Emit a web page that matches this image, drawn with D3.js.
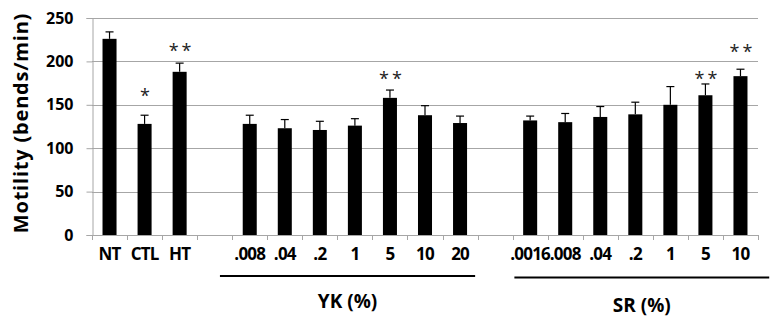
<!DOCTYPE html>
<html lang="en">
<head>
    <meta charset="UTF-8">
    <title>Motility</title>
    <script src="https://cdn.jsdelivr.net/npm/d3@7"></script>
    <style>
        body { margin: 0; background: white; }
        text { font-family: 'Open Sans', sans-serif; font-weight: bold; fill: #000; }
    </style>
</head>
<body>
<script>
    const width = 781;
    const height = 329;

    // "" marks an empty slot between groups
    const categories = ["NT", "CTL", "HT", "", ".008", ".04", ".2", "1", "5", "10", "20", "", ".0016", ".008", ".04", ".2", "1", "5", "10"];
    const values     = [226, 128, 188, null, 128, 123, 121, 126, 158, 138, 129, null, 132, 130, 136, 139, 150, 161, 183];
    const errors     = [8, 10, 10, null, 10, 10, 10, 8, 9, 11, 8, null, 5, 10, 12, 14, 21, 13, 8];
    const stars      = ["", "*", "**", "", "", "", "", "", "**", "", "", "", "", "", "", "", "", "**", "**"];
    // height (in bends/min) at which each star mark sits
    const starLevel  = [null, 165, 217, null, null, null, null, null, 184, null, null, null, null, null, null, null, null, 184, 216];
    const yTicks     = [0, 50, 100, 150, 200, 250];
    const groupLabels = ["YK (%)", "SR (%)"];
    const groupFirst  = [4, 12];
    const groupLast   = [10, 18];

    const svg = d3.select("body").append("svg").attr("width", width).attr("height", height);

    const x = d3.scaleBand()
                .domain(d3.range(categories.length))
                .range([92, 758])
                .paddingInner(0.6)
                .paddingOuter(0.3);
    const y = d3.scaleLinear().domain([0, 250]).range([235, 18]);

    // gridlines
    svg.selectAll("line.grid")
        .data(yTicks.filter(d => d > 0))
        .enter()
        .append("line")
        .attr("class", "grid")
        .attr("x1", 92).attr("x2", 758)
        .attr("y1", d => Math.round(y(d)) + 0.5).attr("y2", d => Math.round(y(d)) + 0.5)
        .style("stroke", "#a6a6a6");

    // y axis
    const yAxis = svg.append("g")
        .attr("transform", "translate(92.5,0)")
        .call(d3.axisLeft(y).tickValues(yTicks).tickSize(6).tickPadding(13));
    yAxis.select(".domain").style("stroke", "#a6a6a6");
    yAxis.selectAll(".tick line").style("stroke", "#a6a6a6");
    yAxis.selectAll("text").style("font-size", "16px").style("font-family", "'Open Sans', sans-serif");

    // x axis: ticks at band boundaries
    const step = x.step();
    const x0 = 92;
    svg.append("line")
        .attr("x1", x0).attr("x2", 758)
        .attr("y1", 235.5).attr("y2", 235.5)
        .style("stroke", "#a6a6a6");
    svg.selectAll("line.xtick")
        .data(d3.range(categories.length + 1))
        .enter()
        .append("line")
        .attr("class", "xtick")
        .attr("x1", i => Math.round(x0 + i * step) + 0.5)
        .attr("x2", i => Math.round(x0 + i * step) + 0.5)
        .attr("y1", 235).attr("y2", 240)
        .style("stroke", "#a6a6a6");

    const idx = d3.range(categories.length).filter(i => values[i] !== null);

    // bars
    svg.selectAll("rect.bar")
        .data(idx)
        .enter()
        .append("rect")
        .attr("class", "bar")
        .attr("x", i => x(i))
        .attr("y", i => y(values[i]))
        .attr("width", x.bandwidth())
        .attr("height", i => y(0) - y(values[i]))
        .style("fill", "#000");

    // error bars (upper only)
    const err = svg.append("g").style("stroke", "#000").style("stroke-width", 1.2);
    idx.forEach(i => {
        const cx = x(i) + x.bandwidth() / 2;
        err.append("line").attr("x1", cx).attr("x2", cx)
            .attr("y1", y(values[i])).attr("y2", y(values[i] + errors[i]));
        err.append("line").attr("x1", cx - 4).attr("x2", cx + 4)
            .attr("y1", y(values[i] + errors[i])).attr("y2", y(values[i] + errors[i]));
    });

    // significance stars
    svg.selectAll("text.star")
        .data(idx.filter(i => stars[i]))
        .enter()
        .append("text")
        .attr("class", "star")
        .attr("x", i => x(i) + x.bandwidth() / 2 + 2)
        .attr("y", i => y(starLevel[i]) + 10)
        .attr("text-anchor", "middle")
        .style("font-size", "18px")
        .style("font-weight", "normal")
        .style("fill", "#222")
        .style("letter-spacing", "3px")
        .text(i => stars[i]);

    // category labels
    svg.selectAll("text.cat")
        .data(idx)
        .enter()
        .append("text")
        .attr("class", "cat")
        .attr("x", i => x(i) + x.bandwidth() / 2)
        .attr("y", 260)
        .attr("text-anchor", "middle")
        .style("font-size", "17px")
        .style("letter-spacing", "-0.8px")
        .text(i => categories[i]);

    // group underlines + labels (lines were hand-placed, so ends differ a bit)
    const lineStart = [-0.65, -0.25];
    const lineEnd   = [0.23, 0.62];
    const lineY     = [276, 277.5];
    const labelY    = [308, 312];
    groupLabels.forEach((label, k) => {
        const a = x(groupFirst[k]) + step * lineStart[k];
        const b = x(groupLast[k]) + x.bandwidth() + step * lineEnd[k];
        svg.append("line")
            .attr("x1", a).attr("x2", b)
            .attr("y1", lineY[k]).attr("y2", lineY[k])
            .style("stroke", "#000").style("stroke-width", 2.2);
        svg.append("text")
            .attr("x", (a + b) / 2)
            .attr("y", labelY[k])
            .attr("text-anchor", "middle")
            .style("font-size", "19px")
            .text(label);
    });

    // y title
    svg.append("text")
        .attr("transform", "translate(28,123) rotate(-90)")
        .attr("text-anchor", "middle")
        .style("font-size", "20px")
        .style("letter-spacing", "0.8px")
        .text("Motility (bends/min)");
</script>
</body>
</html>
